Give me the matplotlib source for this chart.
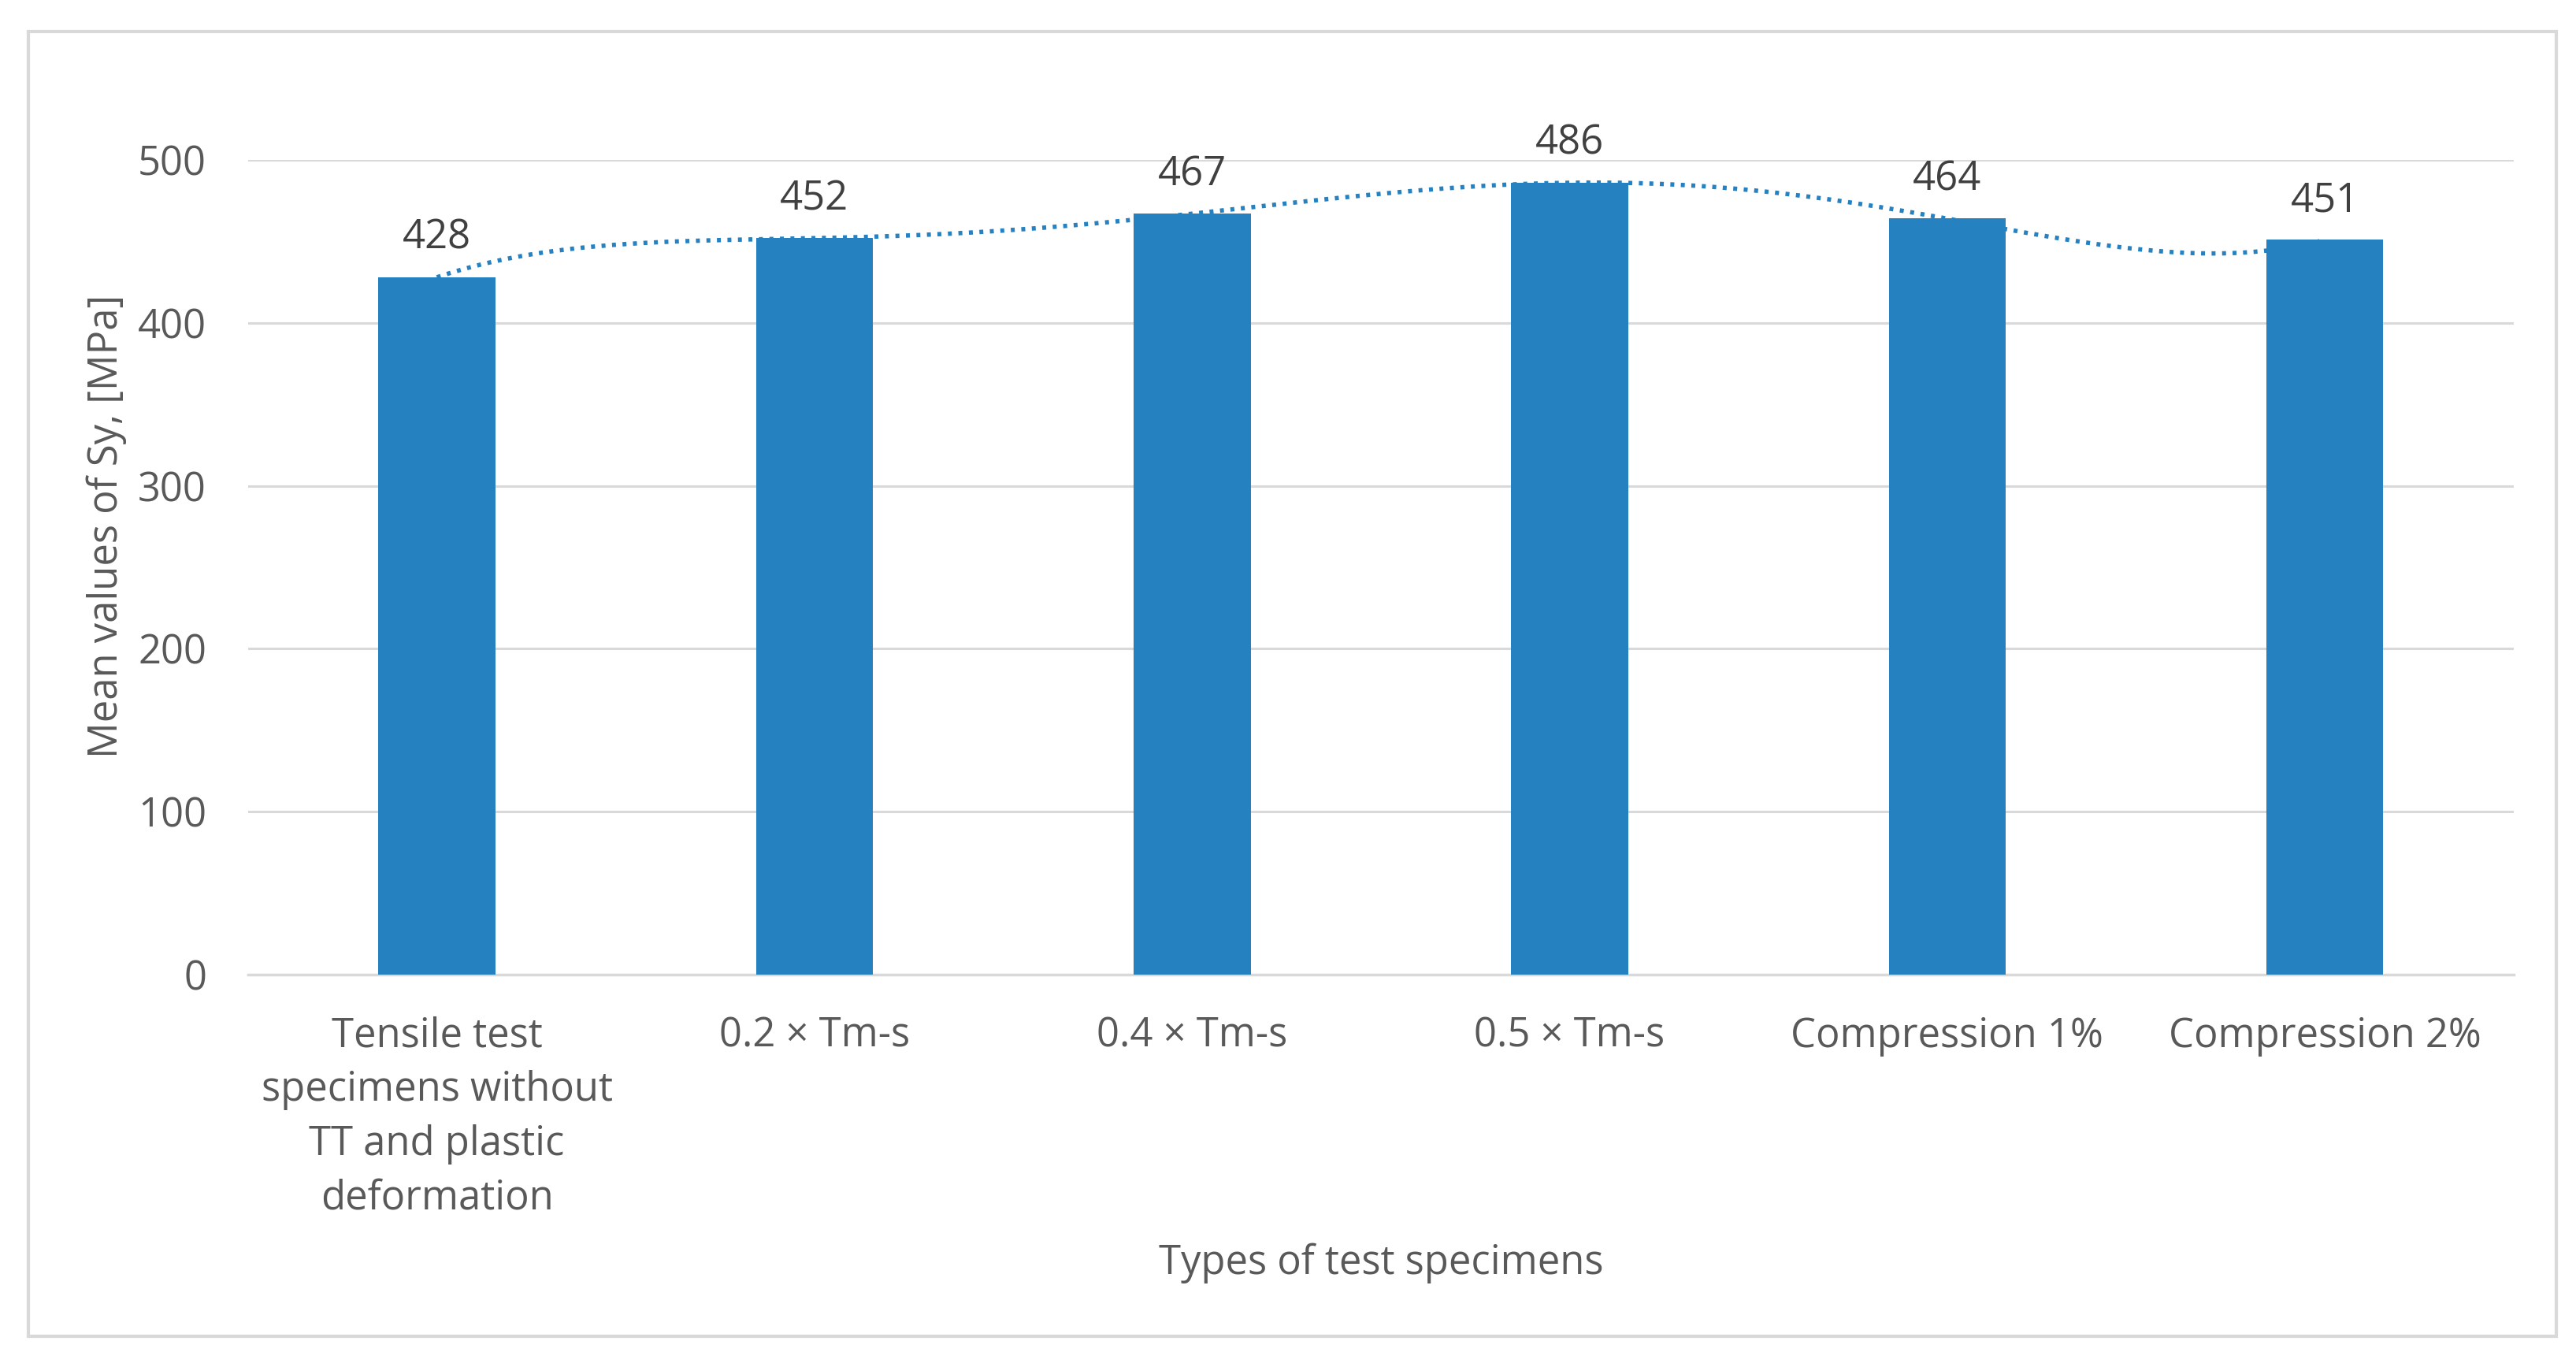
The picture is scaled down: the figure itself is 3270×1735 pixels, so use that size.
import numpy as np
import matplotlib.pyplot as plt
from matplotlib.patches import Rectangle

plt.rcParams['font.family'] = ['Open Sans', 'DejaVu Sans']

categories = ["Tensile test\nspecimens without\nTT and plastic\ndeformation",
              "0.2 \u00d7 Tm-s", "0.4 \u00d7 Tm-s", "0.5 \u00d7 Tm-s",
              "Compression 1%", "Compression 2%"]
values = [428, 452, 467, 486, 464, 451]
yticks = [0, 100, 200, 300, 400, 500]

bar_color = '#2681C1'
text_color = '#595959'
grid_color = '#D9D9D9'
fs = 36.5

fig = plt.figure(figsize=(32.7, 17.35), dpi=100)
ax = fig.add_axes([0.0963, 0.287, 0.8795, 0.596])

x = np.arange(len(values))
ax.bar(x, values, width=0.31, color=bar_color, zorder=3)

# polynomial trendline (order 5), dotted
coef = np.polyfit(x, values, 5)
xs = np.linspace(x[0], x[-1], 400)
ax.plot(xs, np.polyval(coef, xs), linestyle=(0, (0.9, 1.5)), color=bar_color,
        linewidth=4, zorder=4)

for xi, v in zip(x, values):
    ax.annotate(str(v), (xi, v), xytext=(0, 26), textcoords='offset points',
                ha='center', va='baseline', fontsize=fs, color='#404040')

ax.set_xlim(-0.5, len(values) - 0.5)
ax.set_ylim(0, 500)
ax.set_yticks(yticks)
ax.set_xticks(x)
ax.set_xticklabels(categories, linespacing=1.45)
ax.tick_params(axis='both', length=0, labelsize=fs, labelcolor=text_color)
ax.tick_params(axis='y', pad=38)
ax.tick_params(axis='x', pad=38)
ax.grid(axis='y', color=grid_color, linewidth=2.2, zorder=0)
ax.set_axisbelow(True)
for s in ['top', 'right', 'left']:
    ax.spines[s].set_visible(False)
ax.spines['bottom'].set_color(grid_color)
ax.spines['bottom'].set_linewidth(2.5)

fig.text(135 / 3270, 1 - 668 / 1735, "Mean values of Sy, [MPa]", rotation=90,
         ha='center', va='center', fontsize=fs, color=text_color)
fig.text(1753 / 3270, 1 - 1603 / 1735, "Types of test specimens",
         ha='center', va='center', fontsize=fs, color=text_color)

fig.patches.append(Rectangle((0.011, 0.0225), 0.9813, 0.9545, transform=fig.transFigure,
                             fill=False, edgecolor=grid_color, linewidth=3))

fig.savefig('out.png', dpi=100)
